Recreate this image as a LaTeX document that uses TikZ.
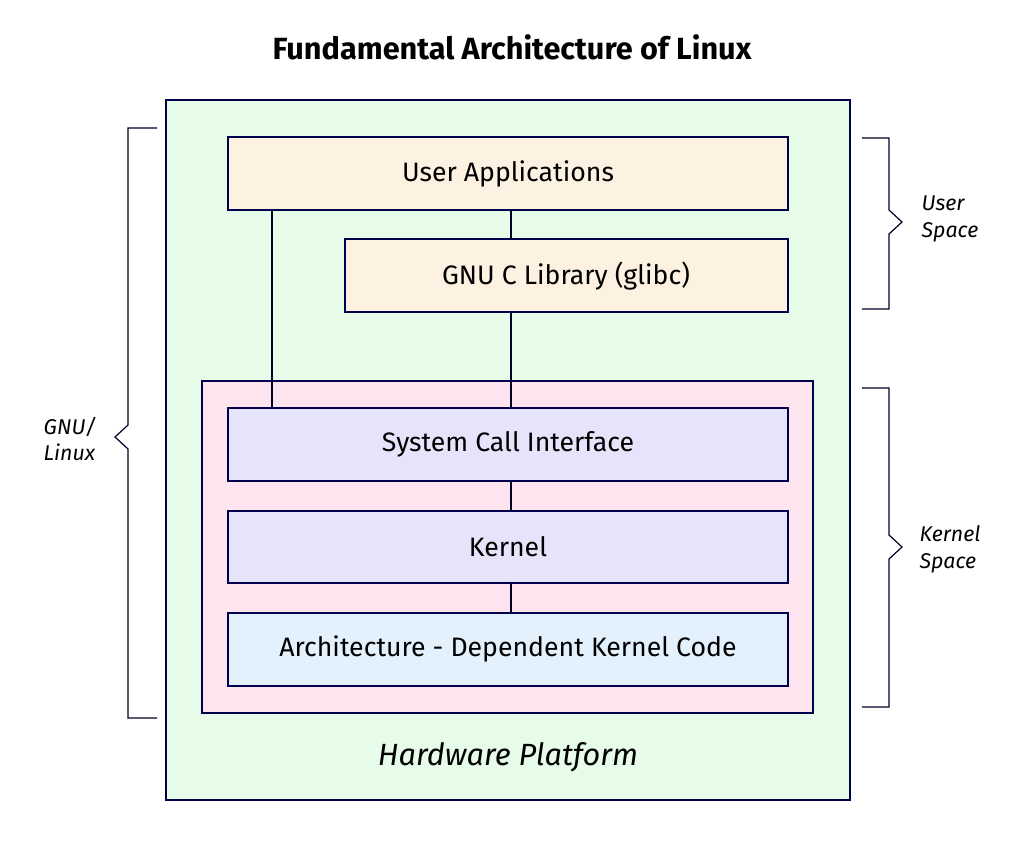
\documentclass[tikz,border=0pt]{standalone}
\usepackage{fontspec}
\setmainfont{Fira Sans}
\begin{document}
\begin{tikzpicture}[x=0.75pt,y=-0.75pt,
  line/.style={draw=black!85!blue, line width=0.9pt},
  box/.style={line, draw=black!70!blue, line width=1pt},
  lbl/.style={font=\fontsize{20}{23}\selectfont},
  side/.style={font=\fontsize{16}{20}\selectfont\itshape, align=left}]
\definecolor{hwgreen}{HTML}{E6FBE8}
\definecolor{userc}{HTML}{FDF1E1}
\definecolor{kpink}{HTML}{FDE4EE}
\definecolor{kviol}{HTML}{E6E4FB}
\definecolor{kblue}{HTML}{E3F1FD}
\useasboundingbox (0,0) rectangle (1024,843);
\node[font=\fontsize{23}{27}\selectfont\bfseries] (title) at (512,47) {Fundamental Architecture of Linux};
\path[box, fill=hwgreen] (166,100) rectangle (850,800);
\node[font=\fontsize{23}{27}\selectfont\itshape] (hw) at (508,757) {Hardware Platform};
\path[box, fill=kpink] (202,381) rectangle (813,713);
\path[box, fill=userc] (228,137) rectangle (788,210);
\coordinate (uab) at (272,210); \coordinate (uam) at (511,210);
\node[lbl] (uat) at (508,174) {User Applications};
\path[box, fill=userc] (345,239) rectangle (788,312);
\coordinate (glt) at (511,239); \coordinate (glb) at (511,312);
\node[lbl] (gl) at (566,276) {GNU C Library (glibc)};
\path[box, fill=kviol] (228,408) rectangle (788,481);
\coordinate (sct) at (511,408); \coordinate (sctl) at (272,408); \coordinate (scb) at (511,481);
\node[lbl] (sc) at (508,444) {System Call Interface};
\path[box, fill=kviol] (228,511) rectangle (788,583);
\coordinate (kt) at (511,511); \coordinate (kb) at (511,583);
\node[lbl] (k) at (508,547) {Kernel};
\path[box, fill=kblue] (228,613) rectangle (788,686);
\coordinate (at) at (511,613);
\node[lbl] (a) at (508,649) {Architecture - Dependent Kernel Code};
\draw[line] (uab) -- (sctl);
\draw[line] (uam) -- (glt);
\draw[line] (glb) -- (sct);
\draw[line] (scb) -- (kt);
\draw[line] (kb) -- (at);
\draw[line] (157,128) -- (128,128) -- (128,425) -- (115,437) -- (128,449) -- (128,718) -- (157,718);
\node[side] (gnu) at (70,439) {GNU/\\Linux};
\draw[line] (862,138) -- (889,138) -- (889,210) -- (902,222) -- (889,234) -- (889,309) -- (862,309);
\node[side] (us) at (950,219) {User\\Space};
\draw[line] (862,388) -- (889,388) -- (889,535) -- (902,547) -- (889,559) -- (889,707) -- (862,707);
\node[side] (ks) at (950,549) {Kernel\\Space};
\end{tikzpicture}
\end{document}
